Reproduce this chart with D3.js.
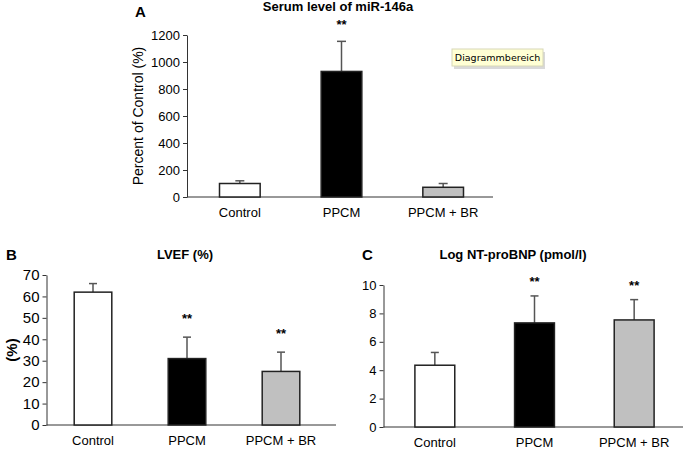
<!DOCTYPE html>
<html>
<head>
<meta charset="utf-8">
<script src="https://cdn.jsdelivr.net/npm/d3@7"></script>
<style>
  body { margin: 0; background: #fff; }
  svg { display: block; font-family: "Liberation Sans", Arial, sans-serif; }
  .axis path, .axis line { stroke: #333; }
</style>
</head>
<body>
<svg id="chart" width="685" height="453"></svg>
<script>
const categories = ['Control', 'PPCM', 'PPCM + BR']
const barColors = ['#ffffff', '#000000', '#c0c0c0']

// A: serum miR-146a, percent of control
const serumMean = [100, 930, 72]
const serumSd = [20, 223, 28]
const serumStars = ['', '**', '']
const serumTicks = [0, 200, 400, 600, 800, 1000, 1200]

// B: LVEF
const lvefMean = [62, 31, 25]
const lvefSd = [4, 10, 9]
const lvefStars = ['', '**', '**']
const lvefTicks = [0, 10, 20, 30, 40, 50, 60, 70]

// C: log NT-proBNP
const bnpMean = [4.35, 7.33, 7.54]
const bnpSd = [0.9, 1.9, 1.43]
const bnpStars = ['', '**', '**']
const bnpTicks = [0, 2, 4, 6, 8, 10]

const svg = d3.select('#chart')

const panels = [
	{ letter: 'A', title: 'Serum level of miR-146a', ylabel: 'Percent of Control (%)', ylabelBold: false,
	  mean: serumMean, sd: serumSd, stars: serumStars, ticks: serumTicks,
	  band: [189, 494], axisX: [187, 493], y: [197, 35], max: 1200, tickSize: 13,
	  titleX: 338, titleY: 11, letterX: 135, letterY: 17, labelX: 143, starY: 29, starOff: 0, capW: 9 },
	{ letter: 'B', title: 'LVEF (%)', ylabel: '(%)', ylabelBold: true,
	  mean: lvefMean, sd: lvefSd, stars: lvefStars, ticks: lvefTicks,
	  band: [46, 328], axisX: [46.5, 336], y: [425, 275], max: 70, tickSize: 15,
	  titleX: 185, titleY: 259, letterX: 6, letterY: 260, labelX: 17, starY: null, starOff: 14, capW: 8 },
	{ letter: 'C', title: 'Log NT-proBNP (pmol/l)', ylabel: null,
	  mean: bnpMean, sd: bnpSd, stars: bnpStars, ticks: bnpTicks,
	  band: [385, 684], axisX: [383.5, 683], y: [427, 285], max: 10, tickSize: 13,
	  titleX: 513, titleY: 259, letterX: 362, letterY: 260, labelX: null, starY: null, starOff: 10, capW: 8 }
]

panels.forEach(p => {
	const g = svg.append('g')
	const x = d3.scaleBand().domain(categories).range(p.band).paddingInner(0.6).paddingOuter(0.3)
	const y = d3.scaleLinear().domain([0, p.max]).range(p.y)

	g.append('text').attr('x', p.letterX).attr('y', p.letterY)
		.attr('font-size', 15).attr('font-weight', 'bold').text(p.letter)
	g.append('text').attr('x', p.titleX).attr('y', p.titleY)
		.attr('text-anchor', 'middle').attr('font-size', 13).attr('font-weight', 'bold').text(p.title)

	if (p.ylabel) {
		const midY = (p.y[0] + p.y[1]) / 2
		g.append('text').attr('transform', `translate(${p.labelX}, ${midY}) rotate(-90)`)
			.attr('text-anchor', 'middle')
			.attr('font-size', p.ylabelBold ? 15 : 14)
			.attr('font-weight', p.ylabelBold ? 'bold' : 'normal')
			.text(p.ylabel)
	}

	// y axis
	const ya = g.append('g').attr('class', 'axis')
		.attr('transform', `translate(${p.axisX[0]},0)`)
		.call(d3.axisLeft(y).tickValues(p.ticks).tickFormat(d3.format('d')).tickSize(4).tickSizeOuter(0).tickPadding(3))
	ya.selectAll('text').attr('font-size', p.tickSize).attr('fill', '#000')
		.attr('font-family', '"Liberation Sans", Arial, sans-serif')

	// x axis line
	g.append('line').attr('x1', p.axisX[0]).attr('x2', p.axisX[1])
		.attr('y1', y(0)).attr('y2', y(0)).attr('stroke', '#333')

	g.selectAll('.xl').data(categories).enter().append('text')
		.attr('x', d => x(d) + x.bandwidth() / 2).attr('y', y(0) + 20)
		.attr('text-anchor', 'middle').attr('font-size', 13).text(d => d)

	const rows = categories.map((c, i) => ({ c, m: p.mean[i], s: p.sd[i], star: p.stars[i], fill: barColors[i] }))

	// error bars
	g.selectAll('.err').data(rows).enter().append('line')
		.attr('x1', d => x(d.c) + x.bandwidth() / 2).attr('x2', d => x(d.c) + x.bandwidth() / 2)
		.attr('y1', d => y(d.m)).attr('y2', d => y(d.m + d.s))
		.attr('stroke', '#555').attr('stroke-width', 1.5)
	g.selectAll('.cap').data(rows).enter().append('line')
		.attr('x1', d => x(d.c) + x.bandwidth() / 2 - p.capW / 2)
		.attr('x2', d => x(d.c) + x.bandwidth() / 2 + p.capW / 2)
		.attr('y1', d => y(d.m + d.s)).attr('y2', d => y(d.m + d.s))
		.attr('stroke', '#555').attr('stroke-width', 1.5)

	g.selectAll('.bar').data(rows).enter().append('rect')
		.attr('x', d => x(d.c)).attr('width', x.bandwidth())
		.attr('y', d => y(d.m)).attr('height', d => y(0) - y(d.m))
		.attr('fill', d => d.fill).attr('stroke', '#222').attr('stroke-width', 1.5)

	g.selectAll('.star').data(rows.filter(d => d.star)).enter().append('text')
		.attr('x', d => x(d.c) + x.bandwidth() / 2)
		.attr('y', d => p.starY !== null ? p.starY : y(d.m + d.s) - p.starOff)
		.attr('text-anchor', 'middle').attr('font-size', 13).attr('font-weight', 'bold')
		.text(d => d.star)
})

// tooltip left over in the source picture
const tip = svg.append('g').attr('transform', 'translate(452,49)')
tip.append('rect').attr('x', 2).attr('y', 3).attr('width', 91).attr('height', 17)
	.attr('fill', '#000').attr('opacity', 0.15)
tip.append('rect').attr('width', 91).attr('height', 17)
	.attr('fill', '#ffffd4').attr('stroke', '#d8d8b8')
tip.append('text').attr('x', 45.5).attr('y', 12).attr('text-anchor', 'middle')
	.attr('font-size', 9.5).attr('font-family', '"DejaVu Sans", sans-serif').text('Diagrammbereich')
</script>
</body>
</html>
